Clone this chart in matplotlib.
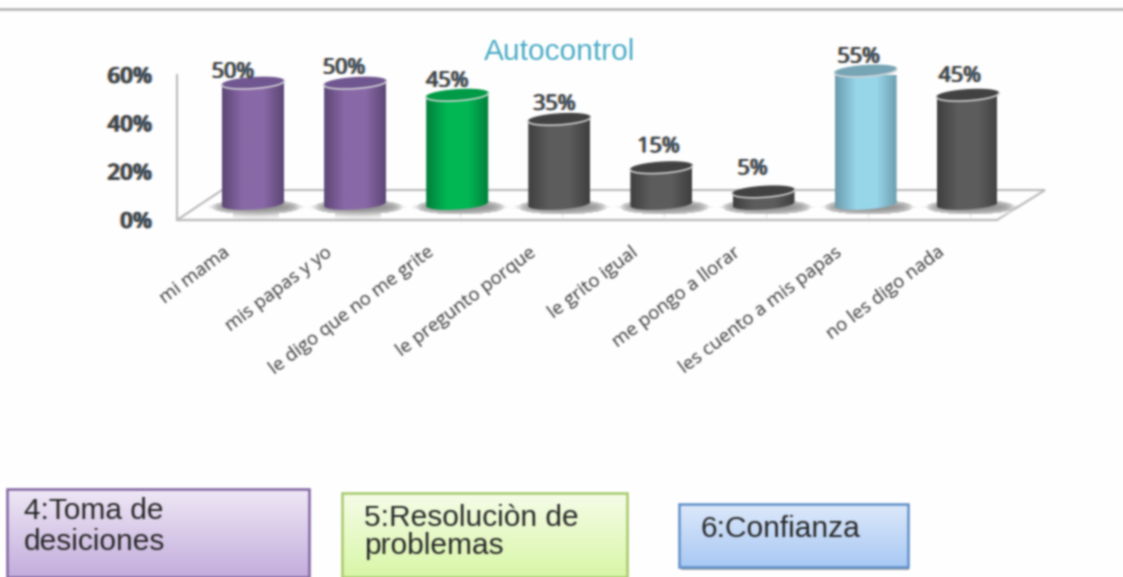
import numpy as np
import matplotlib
matplotlib.use('Agg')
import matplotlib.pyplot as plt
import matplotlib.patheffects as pe
from matplotlib.colors import LinearSegmentedColormap
from matplotlib.patches import Ellipse, PathPatch, Polygon, Rectangle
from matplotlib.path import Path
from matplotlib.ticker import PercentFormatter

categories = ['mi mama', 'mis papas y yo', 'le digo que no me grite', 'le pregunto porque',
              'le grito igual', 'me pongo a llorar', 'les cuento a mis papas', 'no les digo nada']
values = [50, 50, 45, 35, 15, 5, 55, 45]
title = 'Autocontrol'
yticks = [0, 20, 40, 60]

# center, edge, top of the cylinder
purple = ('#8a68a8', '#5b4675', '#6f5690')
green = ('#00b853', '#007f3a', '#009a46')
grey = ('#5c5c5c', '#3e3e3e', '#414141')
blue = ('#98d6ea', '#6a9bad', '#76a5b5')
bar_colors = [purple, purple, green, grey, grey, grey, blue, grey]

# where each value label sits relative to its bar top, in pixels
label_dx = [-20, -11, -10, -5, -3, -11, -7, -8]
label_dy = [13, 17, 16, 17, 23, 25, 16, 21]

W, H = 1123, 577
PT = 72 / 100
fringe = [pe.withSimplePatchShadow(offset=(-1, 0), shadow_rgbFace='#e89030', alpha=0.8),
          pe.withSimplePatchShadow(offset=(1, 0), shadow_rgbFace='#3090f0', alpha=0.8),
          pe.Normal()]


def gauss(a, r, sigma):
    k = np.exp(-0.5 * (np.arange(-r, r + 1) / sigma) ** 2)
    k /= k.sum()
    for axis in (0, 1):
        a = np.apply_along_axis(lambda m: np.convolve(m, k, mode='same'), axis, a)
    return a


def blur(arr, dpi):
    r = 3
    pad = np.pad(arr, ((r, r), (r, r), (0, 0)), mode='edge')
    return gauss(pad, r, 1.0)[r:-r, r:-r], 0, 0


def soft(arr, dpi):
    r = 9
    pad = np.pad(arr, ((r, r), (r, r), (0, 0)), mode='edge')
    pad[..., 3] = gauss(np.pad(arr[..., 3], r), r, 3.5)
    return pad, -r, -r


fig = plt.figure(figsize=(W / 100, H / 100), dpi=100, facecolor='white')
ax = fig.add_axes([177 / W, 1 - 220 / H, 820 / W, 145 / H])

px_x = 1 / 102.1
px_y = 1 / 2.42
xlim = (-76 * px_x, 744 * px_x)
depth = 16 * px_y
hw = 31 * px_x
hh = 5.5 * px_y
tilt = 2 * px_y

# floor
fx = 45 * px_x
fy = 30 * px_y
ax.add_patch(Polygon([(xlim[0], 0), (xlim[1], 0), (xlim[1] + 48 * px_x, fy), (xlim[0] + fx, fy)],
                     closed=True, facecolor='white', edgecolor='#bdbdbd', lw=1.6, clip_on=False, zorder=1))

t = np.linspace(0, np.pi, 41)
for i, (v, c) in enumerate(zip(values, bar_colors)):
    shadow = Ellipse((i + 3 * px_x, depth - 3 * px_y), 88 * px_x, 14 * px_y, facecolor='#8c8c8c',
                     edgecolor='none', clip_on=False, zorder=2)
    shadow.set_agg_filter(soft)
    ax.add_patch(shadow)
    top = v + depth
    # lower front arc from left to right, then up to the top edge
    low_x = i - hw * np.cos(t)
    low_y = depth - hh * np.sin(t) - tilt * np.cos(t)
    verts = np.r_[np.c_[low_x, low_y], [[i + hw, top + tilt], [i - hw, top - tilt], [low_x[0], low_y[0]]]]
    cmap = LinearSegmentedColormap.from_list('cyl', [c[1], c[0], c[0], c[1]])
    im = ax.imshow(np.linspace(0, 1, 128)[None, :], cmap=cmap, aspect='auto', zorder=3,
                   extent=(i - hw, i + hw, depth - hh - tilt, top + hh + tilt))
    body = PathPatch(Path(verts), transform=ax.transData, facecolor='none', edgecolor='none')
    ax.add_patch(body)
    body.set_clip_on(False)
    im.set_clip_path(body)
    im.set_clip_on(True)
    # top of the cylinder with its pale rim
    tt = np.linspace(0, 2 * np.pi, 81)
    ex = i + hw * np.cos(tt)
    ey = top + hh * np.sin(tt) + tilt * np.cos(tt)
    ax.fill(ex, ey, color=c[2], zorder=4, clip_on=False)
    ax.plot(ex[40:], ey[40:], color='#dcdcdc', lw=1.1, zorder=5, clip_on=False)
    ax.annotate(f'{v}%', (i, top), xytext=(label_dx[i] * PT, (label_dy[i] - 2) * PT), textcoords='offset points',
                ha='center', va='center', fontsize=15.5, family='Open Sans', color='#3c3c3c',
                path_effects=fringe, zorder=6, annotation_clip=False)

ax.set_xlim(xlim)
ax.set_ylim(0, 60)
ax.patch.set_visible(False)
for s in ('top', 'right'):
    ax.spines[s].set_visible(False)
for s in ('left', 'bottom'):
    ax.spines[s].set_color('#bdbdbd')
    ax.spines[s].set_linewidth(1.6)
    ax.spines[s].set_zorder(2)
ax.set_yticks(yticks)
ax.yaxis.set_major_formatter(PercentFormatter(decimals=0))
ax.set_xticks(np.arange(len(categories)) - 0.3)
ax.set_xticklabels(categories, rotation=37, ha='right', va='top', rotation_mode='anchor',
                   fontsize=13.5, family='Open Sans', color='#383838')
ax.tick_params(axis='x', length=0, pad=23 * PT)
ax.tick_params(axis='y', length=0, pad=25 * PT)
for lab in ax.get_yticklabels():
    lab.set(fontsize=16, family='Open Sans', fontweight='semibold', color='#404040', path_effects=fringe)

# page around the chart, in pixels
page = fig.add_axes([0, 0, 1, 1], zorder=5)
page.patch.set_visible(False)
page.axis('off')
page.plot([0, W], [9, 9], color='#b0b0b0', lw=1.8)
page.text(560, 52, title, ha='center', va='center', fontsize=21.5, family='Liberation Sans',
          color='#4bacc6')

boxes = [(7, 489, 309, 577, '#efe8f6', '#c4aedd', '#8064a2'),
         (342, 493, 627, 577, '#f6fde8', '#d9f7a8', '#a6c96a'),
         (679, 504, 908, 567, '#dde9fb', '#a9c9f4', '#5f8fc8')]
page.add_patch(Rectangle((681, 567), 228, 3, facecolor='#a8a8a8', edgecolor='none', zorder=1))
for x0, y0, x1, y1, c_top, c_low, c_edge in boxes:
    cmap = LinearSegmentedColormap.from_list('box', [c_top, c_low])
    page.imshow(np.linspace(0, 1, 64)[:, None], cmap=cmap, aspect='auto', extent=(x0, x1, y1, y0), zorder=2)
    page.add_patch(Rectangle((x0, y0), x1 - x0, y1 - y0, facecolor='none', edgecolor=c_edge, lw=1.8, zorder=3))
box_text = [(24, 511, '4:Toma de'), (24, 542, 'desiciones'), (364, 518, '5:Resoluciòn de'),
            (364, 546, 'problemas'), (700, 529, '6:Confianza')]
for x, y, s in box_text:
    page.text(x, y, s, ha='left', va='center', fontsize=21.5, family='Liberation Sans', color='#262626', zorder=4)
page.set_xlim(0, W)
page.set_ylim(H, 0)

fig.set_agg_filter(blur)
fig.savefig('out.png', dpi=100, facecolor='white')
